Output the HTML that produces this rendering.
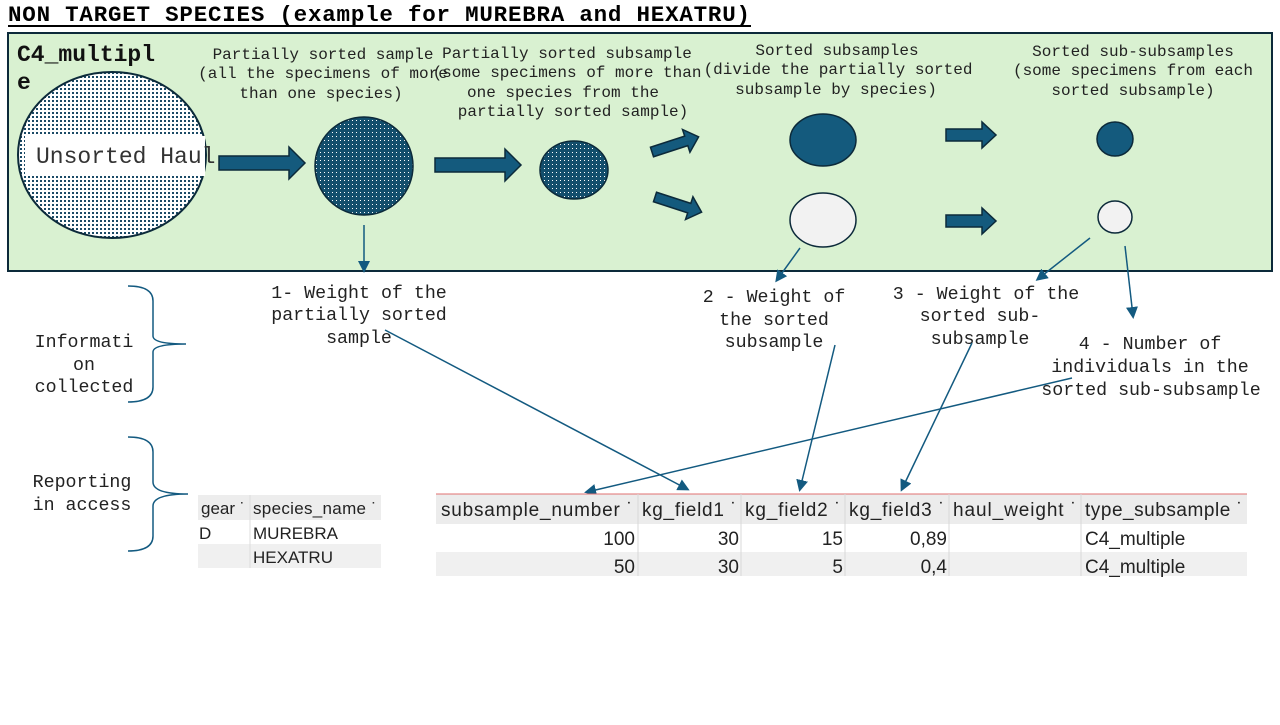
<!DOCTYPE html>
<html><head><meta charset="utf-8"><style>
body{margin:0;background:#fff;width:1280px;height:720px;overflow:hidden}
svg text{font-family:"Liberation Mono",monospace;fill:#222}
.t{font-family:"Liberation Sans",sans-serif!important;font-size:17px;fill:#222}
.h{font-family:"Liberation Sans",sans-serif!important;font-size:19px;fill:#222}
</style></head><body>
<svg width="1280" height="720" viewBox="0 0 1280 720">
<defs>
<pattern id="dw" width="4" height="4" patternUnits="userSpaceOnUse"><rect width="4" height="4" fill="#fff"/><rect width="2" height="2" fill="#1b4a66"/></pattern>
<pattern id="db" width="4" height="4" patternUnits="userSpaceOnUse"><rect width="4" height="4" fill="#134e6c"/><rect width="1" height="1" fill="#fff"/></pattern>
<marker id="ah" markerWidth="8" markerHeight="8" refX="6" refY="4" orient="auto"><path d="M0,0 L8,4 L0,8 z" fill="#135a80"/></marker>
</defs>
<g>
<text x="8" y="21" font-size="22.5" font-weight="bold" style="fill:#000" textLength="742">NON TARGET SPECIES (example for MUREBRA and HEXATRU)</text>
<line x1="8" y1="26" x2="751" y2="26" stroke="#000" stroke-width="2"/>
</g>
<rect x="8" y="33" width="1264" height="238" fill="#d9f1d1" stroke="#0c2a3a" stroke-width="2"/>
<text x="17" y="61" font-size="23" font-weight="bold" style="fill:#111">C4_multipl</text>
<text x="17" y="89" font-size="23" font-weight="bold" style="fill:#111">e</text>
<ellipse cx="112" cy="155" rx="94" ry="83" fill="url(#dw)" stroke="#0c2a3a" stroke-width="2"/>
<rect x="25" y="136" width="180" height="40" fill="#fff"/>
<g fill="#145a7d" stroke="#0c2a3a" stroke-width="1.5">
<path d="M219,156 h70 v-9 l16,16 l-16,16 v-9 h-70 z"/>
<path d="M435,158 h70 v-9 l16,16 l-16,16 v-9 h-70 z"/>
<path transform="rotate(-18 652 152)" d="M652,147 h36 v-7 l13,12 l-13,12 v-7 h-36 z"/>
<path transform="rotate(18 655 197)" d="M655,192 h36 v-7 l13,12 l-13,12 v-7 h-36 z"/>
<path d="M946,129 h36 v-7 l14,13 l-14,13 v-7 h-36 z"/>
<path d="M946,215 h36 v-7 l14,13 l-14,13 v-7 h-36 z"/>
</g>
<text x="36" y="163" font-size="23" style="fill:#333">Unsorted Haul</text>
<ellipse cx="364" cy="166" rx="49" ry="49" fill="url(#db)" stroke="#0c2a3a" stroke-width="1.5"/>
<ellipse cx="574" cy="170" rx="34" ry="29" fill="url(#db)" stroke="#0c2a3a" stroke-width="1.5"/>
<ellipse cx="823" cy="140" rx="33" ry="26" fill="#145a7d" stroke="#0c2a3a" stroke-width="1.5"/>
<ellipse cx="823" cy="220" rx="33" ry="27" fill="#f2f2f2" stroke="#0c2a3a" stroke-width="1.5"/>
<ellipse cx="1115" cy="139" rx="18" ry="17" fill="#145a7d" stroke="#0c2a3a" stroke-width="1.5"/>
<ellipse cx="1115" cy="217" rx="17" ry="16" fill="#f2f2f2" stroke="#0c2a3a" stroke-width="1.5"/>
<g font-size="16" text-anchor="middle" style="fill:#333">
<text x="323" y="59">Partially sorted sample</text><text x="323" y="78">(all the specimens of more</text><text x="321" y="98">than one species)</text>
<text x="567" y="58">Partially sorted subsample</text><text x="567" y="77">(some specimens of more than</text><text x="563" y="97">one species from the</text><text x="573" y="116">partially sorted sample)</text>
<text x="837" y="55">Sorted subsamples</text><text x="838" y="74">(divide the partially sorted</text><text x="836" y="94">subsample by species)</text>
<text x="1133" y="56">Sorted sub-subsamples</text><text x="1133" y="75">(some specimens from each</text><text x="1133" y="95">sorted subsample)</text>
</g>
<g font-size="18.3" text-anchor="middle" style="fill:#333">
<text x="359" y="298">1- Weight of the</text><text x="359" y="320">partially sorted</text><text x="359" y="343">sample</text>
<text x="774" y="302">2 - Weight of</text><text x="774" y="325">the sorted</text><text x="774" y="347">subsample</text>
<text x="986" y="299">3 - Weight of the</text><text x="980" y="321">sorted sub-</text><text x="980" y="344">subsample</text>
<text x="1150" y="349">4 - Number of</text><text x="1150" y="372">individuals in the</text><text x="1151" y="395">sorted sub-subsample</text>
<text x="84" y="347">Informati</text><text x="84" y="370">on</text><text x="84" y="392">collected</text>
<text x="82" y="487">Reporting</text><text x="82" y="510">in access</text>
</g>
<g fill="none" stroke="#135a80" stroke-width="1.5">
<path d="M128,286 q25,0 25,15 v35 q0,8 33,8 q-33,0 -33,8 v35 q0,15 -25,15"/>
<path d="M128,437 q25,0 25,15 v30 q0,12 35,12 q-35,0 -35,12 v30 q0,15 -25,15"/>
<g marker-end="url(#ah)">
<line x1="364" y1="225" x2="364" y2="270"/>
<line x1="800" y1="248" x2="777" y2="280"/>
<line x1="1090" y1="238" x2="1038" y2="279"/>
<line x1="1125" y1="246" x2="1133" y2="316"/>
<line x1="385" y1="330" x2="687" y2="489"/>
<line x1="835" y1="345" x2="800" y2="489"/>
<line x1="972" y1="343" x2="902" y2="489"/>
<line x1="1072" y1="378" x2="587" y2="492"/>
</g></g>
<g>
<rect x="198" y="495" width="183" height="25" fill="#ededed"/>
<rect x="198" y="544" width="183" height="24" fill="#f0f0f0"/>
<line x1="250" y1="495" x2="250" y2="568" stroke="#ddd"/>
<text class="t" x="201" y="514">gear ˙</text><text class="t" x="253" y="514" textLength="124">species_name ˙</text>
<text class="t" x="199" y="539">D</text><text class="t" x="253" y="539">MUREBRA</text>
<text class="t" x="253" y="563">HEXATRU</text>
</g>
<g>
<rect x="436" y="494" width="811" height="30" fill="#ececec"/>
<line x1="436" y1="494" x2="1247" y2="494" stroke="#e07070"/>
<rect x="436" y="552" width="811" height="24" fill="#f0f0f0"/>
<g stroke="#d8d8d8"><line x1="638" y1="494" x2="638" y2="576"/><line x1="741" y1="494" x2="741" y2="576"/><line x1="845" y1="494" x2="845" y2="576"/><line x1="949" y1="494" x2="949" y2="576"/><line x1="1081" y1="494" x2="1081" y2="576"/></g>
<text class="h" x="441" y="516" textLength="192">subsample_number ˙</text>
<text class="h" x="642" y="516" textLength="95">kg_field1 ˙</text>
<text class="h" x="745" y="516" textLength="96">kg_field2 ˙</text>
<text class="h" x="849" y="516" textLength="96">kg_field3 ˙</text>
<text class="h" x="953" y="516" textLength="124">haul_weight ˙</text>
<text class="h" x="1085" y="516" textLength="158">type_subsample ˙</text>
<g text-anchor="end">
<text class="h" x="635" y="545">100</text><text class="h" x="739" y="545">30</text><text class="h" x="843" y="545">15</text><text class="h" x="947" y="545">0,89</text>
<text class="h" x="635" y="573">50</text><text class="h" x="739" y="573">30</text><text class="h" x="843" y="573">5</text><text class="h" x="947" y="573">0,4</text>
</g>
<text class="h" x="1085" y="545">C4_multiple</text>
<text class="h" x="1085" y="573">C4_multiple</text>
</g>
</svg>
</body></html>
